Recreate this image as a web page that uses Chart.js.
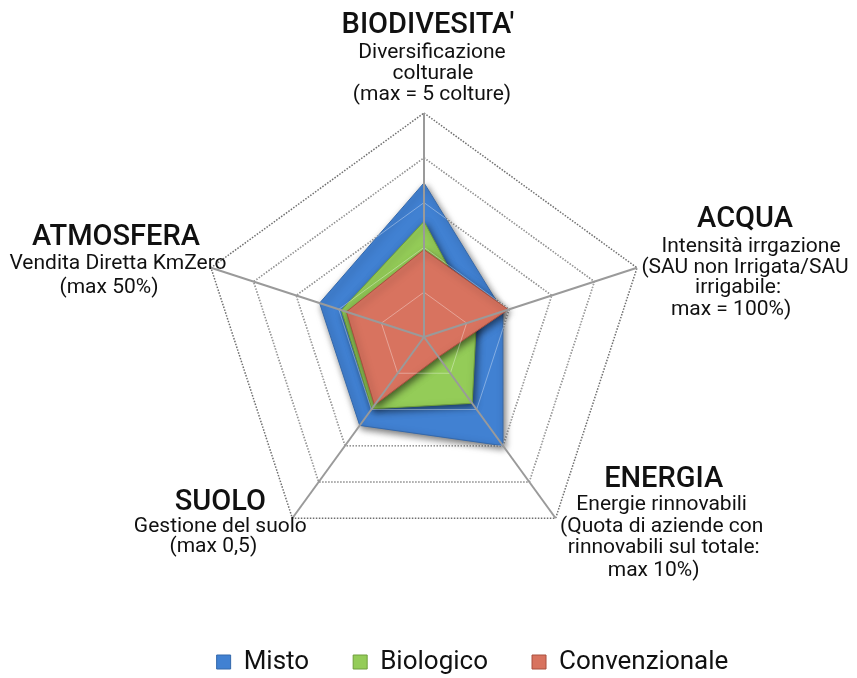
<!DOCTYPE html>
<html><head><meta charset="utf-8">
<script src="https://cdn.jsdelivr.net/npm/chart.js@4.4.1/dist/chart.umd.min.js"></script>
<style>html,body{margin:0;padding:0;background:#fff}#wrap{width:857px;height:678px;position:relative}</style>
</head><body><div id="wrap"><canvas id="c" width="857" height="678"></canvas></div>
<script>
// ---- data ----
const categories = ["BIODIVESITA'", "ACQUA", "ENERGIA", "SUOLO", "ATMOSFERA"];
const subLabels = [
  ["Diversificazione", "colturale", "(max = 5 colture)"],
  ["Intensità irrgazione", "(SAU non Irrigata/SAU", "irrigabile:", "max = 100%)"],
  ["Energie rinnovabili", "(Quota di aziende con", "rinnovabili sul totale:", "max 10%)"],
  ["Gestione del suolo", "(max 0,5)"],
  ["Vendita Diretta KmZero", "(max 50%)"]
];
const seriesNames = ["Misto", "Biologico", "Convenzionale"];
const misto = [3.44, 1.85, 3.0, 2.44, 2.45];
const biologico = [2.58, 1.23, 1.83, 1.98, 1.94];
const convenzionale = [1.95, 1.98, 0.55, 1.88, 1.82];
const scaleMin = 0;
const scaleMax = 5;
const scaleStep = 1;

// ---- label placement (offsets from each axis end) ----
const labelLayout = [
  {t: [4, -80], l: [[8, -55], [9, -34], [8, -13]]},
  {t: [108, -41], l: [[114, -16], [108, 5], [101, 25], [94, 47]]},
  {t: [108, -31], l: [[106, -8], [106, 14], [108, 35], [98, 58]]},
  {t: [-72, -8], l: [[-72, 14], [-79, 34]]},
  {t: [-95, -23], l: [[-93, 1], [-102, 25]]}
];

const shadowPlugin = {
  id: 'shadowPlugin',
  beforeDatasetsDraw(chart) {
    const ctx = chart.ctx;
    ctx.save();
    ctx.shadowColor = 'rgba(0,0,0,0.55)';
    ctx.shadowBlur = 7;
    ctx.shadowOffsetX = 2;
    ctx.shadowOffsetY = 3;
  },
  afterDatasetsDraw(chart) {
    const ctx = chart.ctx;
    ctx.restore();
    const s = chart.scales.r;
    const n = chart.data.labels.length;
    // faint inner rings over the fills
    ctx.save();
    ctx.strokeStyle = 'rgba(255,255,255,0.35)';
    ctx.lineWidth = 1;
    s.ticks.forEach((t) => {
      if (t.value <= s.min || t.value >= s.max) return;
      const d = s.getDistanceFromCenterForValue(t.value);
      ctx.beginPath();
      for (let i = 0; i < n; i++) {
        const p = s.getPointPosition(i, d);
        if (i === 0) ctx.moveTo(p.x, p.y); else ctx.lineTo(p.x, p.y);
      }
      ctx.closePath();
      ctx.stroke();
    });
    ctx.restore();
    // axis lines on top
    const rEnd = s.getDistanceFromCenterForValue(s.max);
    ctx.save();
    ctx.strokeStyle = '#9a9a9a';
    ctx.lineWidth = 2;
    for (let i = 0; i < n; i++) {
      const p = s.getPointPosition(i, rEnd);
      ctx.beginPath();
      ctx.moveTo(s.xCenter, s.yCenter);
      ctx.lineTo(p.x, p.y);
      ctx.stroke();
    }
    ctx.restore();
  }
};

const labelPlugin = {
  id: 'labelPlugin',
  afterDraw(chart) {
    const ctx = chart.ctx;
    const s = chart.scales.r;
    const rEnd = s.getDistanceFromCenterForValue(s.max);
    ctx.save();
    ctx.fillStyle = '#111';
    ctx.textAlign = 'center';
    ctx.textBaseline = 'alphabetic';
    chart.data.labels.forEach((lab, i) => {
      const p = s.getPointPosition(i, rEnd);
      const L = labelLayout[i];
      ctx.font = '500 29px Roboto';
      ctx.fillText(lab, p.x + L.t[0], p.y + L.t[1]);
      ctx.font = '21px Roboto';
      subLabels[i].forEach((txt, j) => {
        ctx.fillText(txt, p.x + L.l[j][0], p.y + L.l[j][1]);
      });
    });
    ctx.restore();
  }
};

new Chart(document.getElementById('c'), {
  type: 'radar',
  data: {
    labels: categories,
    datasets: [
      {label: seriesNames[0], data: misto, backgroundColor: '#4181d2', borderColor: '#3468ab', borderWidth: 1, pointRadius: 0, fill: true, order: 3},
      {label: seriesNames[1], data: biologico, backgroundColor: '#94cc58', borderColor: '#6f9e3c', borderWidth: 1, pointRadius: 0, fill: true, order: 2},
      {label: seriesNames[2], data: convenzionale, backgroundColor: '#d8735f', borderColor: '#a9503f', borderWidth: 1, pointRadius: 0, fill: true, order: 1}
    ]
  },
  options: {
    responsive: false,
    animation: false,
    devicePixelRatio: 1,
    layout: {padding: {top: 113, left: 100, right: 12, bottom: -7}},
    scales: {
      r: {
        min: scaleMin, max: scaleMax,
        ticks: {display: false, stepSize: scaleStep},
        grid: {color: '#6e6e6e', lineWidth: 1.5},
        border: {dash: [1.5, 1.5]},
        angleLines: {display: false},
        pointLabels: {display: false}
      }
    },
    plugins: {
      tooltip: {enabled: false},
      title: {display: true, position: 'right', text: ' ', fullSize: false, font: {size: 10, lineHeight: 1}, padding: {top: 0, bottom: 87}},
      legend: {
        position: 'bottom',
        title: {display: true, text: ' ', font: {size: 44, lineHeight: 1}, padding: 0},
        labels: {
          font: {family: 'Roboto', size: 26},
          color: '#111',
          boxWidth: 14, boxHeight: 14,
          padding: 44,
          sort: (a, b) => a.datasetIndex - b.datasetIndex
        }
      }
    }
  },
  plugins: [shadowPlugin, labelPlugin]
});
</script>
</body></html>
